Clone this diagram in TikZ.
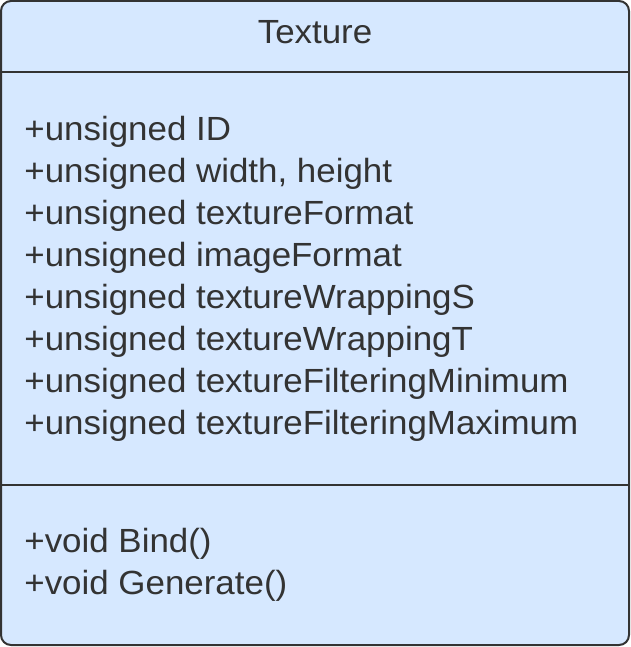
\documentclass[tikz,border=0pt]{standalone}
\usepackage{fontspec}
\setmainfont[FakeStretch=1.042]{Liberation Sans}
\usepackage{tikz}
\definecolor{classfill}{HTML}{D6E8FF}
\definecolor{classline}{HTML}{333333}

\begin{document}
\begin{tikzpicture}[x=1pt, y=1pt, thick,
  member/.style = {anchor=base west, inner sep=0pt, text=classline, font=\fontsize{33.5}{42}\selectfont},
  title/.style = {anchor=base, inner sep=0pt, text=classline, font=\fontsize{33.5}{42}\selectfont}]
\useasboundingbox (0,0) rectangle (630,-647);
\draw[classline, fill=classfill, line width=2pt, rounded corners=10pt] (1,-1) rectangle (629,-645);
\draw[classline, line width=2pt] (1,-72) -- (629,-72);
\draw[classline, line width=2pt] (1,-485) -- (629,-485);
\node[title] (name) at (315,-44) {Texture};
\node[member] (id) at (24,-140.5) {+unsigned ID};
\node[member] (size) at (24,-182.5) {+unsigned width, height};
\node[member] (texfmt) at (24,-224.5) {+unsigned textureFormat};
\node[member] (imgfmt) at (24,-266.5) {+unsigned imageFormat};
\node[member] (wraps) at (24,-308.5) {+unsigned textureWrappingS};
\node[member] (wrapt) at (24,-350.5) {+unsigned textureWrappingT};
\node[member] (filtmin) at (24,-392.5) {+unsigned textureFilteringMinimum};
\node[member] (filtmax) at (24,-434.5) {+unsigned textureFilteringMaximum};
\node[member] (bind) at (24,-552.5) {+void Bind()};
\node[member] (gen) at (24,-594.5) {+void Generate()};
\end{tikzpicture}
\end{document}
